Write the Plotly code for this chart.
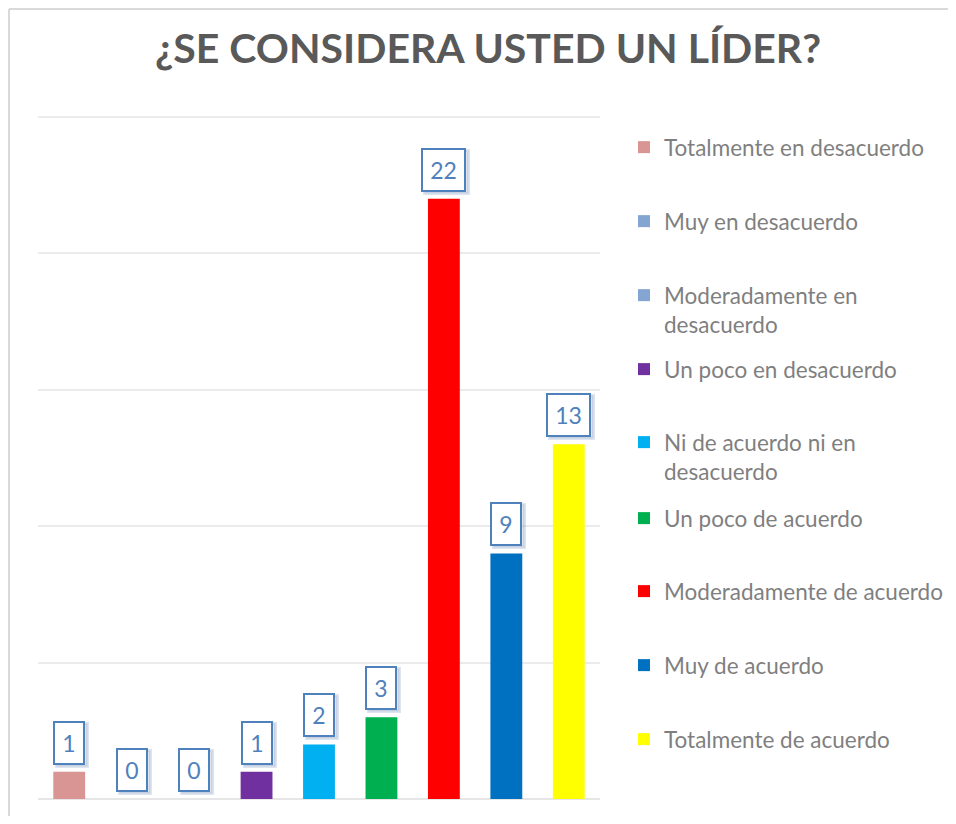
import plotly.graph_objects as go

categories = [
    "Totalmente en desacuerdo",
    "Muy en desacuerdo",
    "Moderadamente en desacuerdo",
    "Un poco en desacuerdo",
    "Ni de acuerdo ni en desacuerdo",
    "Un poco de acuerdo",
    "Moderadamente de acuerdo",
    "Muy de acuerdo",
    "Totalmente de acuerdo",
]
legend_labels = [
    "Totalmente en desacuerdo",
    "Muy en desacuerdo",
    "Moderadamente en<br>desacuerdo",
    "Un poco en desacuerdo",
    "Ni de acuerdo ni en<br>desacuerdo",
    "Un poco de acuerdo",
    "Moderadamente de acuerdo",
    "Muy de acuerdo",
    "Totalmente de acuerdo",
]
values = [1, 0, 0, 1, 2, 3, 22, 9, 13]
colors = ["#D99594", "#84A5D1", "#84A5D1", "#7030A0", "#00B0F0",
          "#00B050", "#FF0000", "#0070C0", "#FFFF00"]
grid_values = [5, 10, 15, 20, 25]

# page has an 8px body margin; figure sits at (8, 8)
OFF = 8
W, H = 956 - 2 * OFF, 824 - 2 * OFF
UNIT = (799 - 117) / 25.0  # px per unit
TOP_EXTRA = 3 / UNIT
# plot area in page pixels
PX0, PX1, PY0, PY1 = 38, 600, 117 - 3, 799
ML, MR, MT, MB = PX0 - OFF, W - (PX1 - OFF), PY0 - OFF, H - (PY1 - OFF)
PW = W - ML - MR
PH = H - MT - MB

def px_x(px):
    return (px - OFF - ML) / PW

def px_y(py):
    return (H - MB - (py - OFF)) / PH

FONT = "Lato"
LABEL_BLUE = "#4F81BD"

fig = go.Figure()
legend_layouts = {}
legend_first_line = [147, 221, 295, 369, 442, 518, 591, 665, 739]
for i, (cat, lab, v, c) in enumerate(zip(categories, legend_labels, values, colors)):
    lname = "legend" if i == 0 else f"legend{i+1}"
    fig.add_trace(go.Bar(
        x=[cat], y=[v], name=lab, marker=dict(color=c, line=dict(width=0)),
        width=0.51, legend=lname, showlegend=True,
    ))
    legend_layouts[lname] = dict(
        x=px_x(624), y=px_y(legend_first_line[i] - 21), xanchor="left", yanchor="top",
        font=dict(family=FONT, size=22.5, color="#7F7F7F"),
        bgcolor="rgba(0,0,0,0)", valign="top", itemclick=False,
    )

annotations = []
for cat, v in zip(categories, values):
    txt = str(v)
    w = 13 * len(txt) + 11
    # soft shadow
    annotations.append(dict(
        x=cat, y=v, xref="x", yref="y", text="", showarrow=False,
        yanchor="bottom", yshift=4, xshift=3,
        width=w, height=36, borderpad=2, borderwidth=3,
        bordercolor="rgba(110,135,180,0.22)", bgcolor="rgba(110,135,180,0.22)",
    ))
    annotations.append(dict(
        x=cat, y=v, xref="x", yref="y", text=txt, showarrow=False,
        yanchor="bottom", yshift=7,
        width=w, height=36, borderpad=2, borderwidth=2,
        bordercolor=LABEL_BLUE, bgcolor="white",
        font=dict(family=FONT, size=23, color=LABEL_BLUE),
    ))

shapes = [
    dict(type="line", xref="paper", yref="paper", x0=px_x(9), x1=px_x(948), y0=px_y(9), y1=px_y(9),
         line=dict(color="#D9D9D9", width=2)),
    dict(type="line", xref="paper", yref="paper", x0=px_x(9), x1=px_x(9), y0=px_y(9), y1=px_y(816),
         line=dict(color="#D9D9D9", width=2)),
]

fig.update_layout(
    width=W, height=H,
    margin=dict(l=ML, r=MR, t=MT, b=MB, autoexpand=False),
    paper_bgcolor="white", plot_bgcolor="white",
    barmode="overlay",
    title=dict(text="<b>¿SE CONSIDERA USTED UN LÍDER?</b>", x=(488 - OFF) / W, xanchor="center",
               y=1 - (49 - OFF) / H, yanchor="middle", yref="container",
               font=dict(family=FONT, size=41, color="#595959")),
    xaxis=dict(showticklabels=False, showgrid=False, zeroline=False, showline=False,
               categoryorder="array", categoryarray=categories),
    yaxis=dict(range=[0, 25 + TOP_EXTRA], tickvals=grid_values, showticklabels=False, showgrid=True,
               gridcolor="#EBEBEB", gridwidth=1.5, zeroline=True, zerolinecolor="#E6E6E6",
               zerolinewidth=2, showline=False),
    annotations=annotations,
    shapes=shapes,
    showlegend=True,
    **legend_layouts,
)

fig.write_html("out.html")
